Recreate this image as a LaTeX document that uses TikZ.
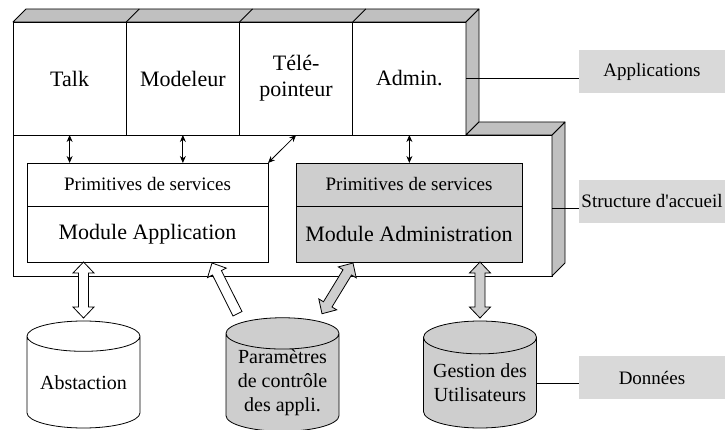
\documentclass[tikz,border=0pt]{standalone}
\usepackage{fontspec}
\setmainfont{Liberation Serif}
\usetikzlibrary{arrows.meta, positioning, shapes.geometric, calc}
\definecolor{FaceGray}{RGB}{192,192,192}
\definecolor{ModGray}{RGB}{206,206,206}
\definecolor{LabelGray}{RGB}{217,217,217}
\newcommand{\appfont}{\fontsize{22}{26}\selectfont}
\newcommand{\primfont}{\fontsize{19}{22}\selectfont}
\newcommand{\dbfont}{\fontsize{20}{24}\selectfont}

% fat arrow, two heads: fill, from, to
\newcommand{\dblarrow}[3]{%
  \coordinate (fa-a) at (#2); \coordinate (fa-b) at (#3);
  \coordinate (fa-h1) at ($(fa-a)!11pt!(fa-b)$);
  \coordinate (fa-h2) at ($(fa-b)!11pt!(fa-a)$);
  \draw[fill=#1, line width=0.8pt] (fa-a) -- ($(fa-h1)!10.5pt!90:(fa-b)$) -- ($(fa-h1)!5pt!90:(fa-b)$)
    -- ($(fa-h2)!5pt!-90:(fa-a)$) -- ($(fa-h2)!10.5pt!-90:(fa-a)$) -- (fa-b)
    -- ($(fa-h2)!10.5pt!90:(fa-a)$) -- ($(fa-h2)!5pt!90:(fa-a)$)
    -- ($(fa-h1)!5pt!-90:(fa-b)$) -- ($(fa-h1)!10.5pt!-90:(fa-b)$) -- cycle;}
% fat arrow, one head at the end: fill, from, to
\newcommand{\sglarrow}[3]{%
  \coordinate (fa-a) at (#2); \coordinate (fa-b) at (#3);
  \coordinate (fa-h2) at ($(fa-b)!11pt!(fa-a)$);
  \draw[fill=#1, line width=0.8pt] ($(fa-a)!5pt!90:(fa-b)$)
    -- ($(fa-h2)!5pt!-90:(fa-a)$) -- ($(fa-h2)!10.5pt!-90:(fa-a)$) -- (fa-b)
    -- ($(fa-h2)!10.5pt!90:(fa-a)$) -- ($(fa-h2)!5pt!90:(fa-a)$)
    -- ($(fa-a)!5pt!-90:(fa-b)$) -- cycle;}

\begin{document}
\begin{tikzpicture}[x=1pt, y=-1pt, line width=0.8pt]
        \tikzstyle{appbox} = [rectangle, draw, fill=white, minimum width=113.25pt, minimum height=113pt, inner sep=0pt, outer sep=0pt, align=center, font=\appfont]
        \tikzstyle{primbox} = [rectangle, draw, fill=white, minimum height=43pt, inner sep=0pt, outer sep=0pt, font=\primfont]
        \tikzstyle{modbox} = [rectangle, draw, fill=white, minimum height=56pt, inner sep=0pt, outer sep=0pt, font=\appfont]
        \tikzstyle{db} = [cylinder, shape border rotate=90, draw, fill=white, minimum width=113pt, minimum height=107pt, aspect=0.35, inner sep=0pt, outer sep=0pt, align=center, anchor=shape center, font=\dbfont]
        \tikzstyle{layer} = [rectangle, fill=LabelGray, minimum width=146pt, minimum height=43pt, inner sep=0pt, font=\primfont]
        \tikzstyle{face} = [draw, fill=FaceGray, line join=round]
        \tikzstyle{arrow} = [<->, >={Stealth[length=7pt, width=6pt]}]

        \useasboundingbox (0,0) rectangle (725,430);

        % Structure d'accueil
        \node (struct) [rectangle, draw, fill=white, minimum width=539pt, minimum height=141pt, outer sep=0pt] at (282.5,205.5) {};
        \draw [face] (struct.north east) -- ++(13,-13) -- ++(0,141) -- (struct.south east) -- cycle;

        % Applications
        \node (talk) [appbox] at (69.625,78.5) {Talk};
        \node (modeleur) [appbox, right=0pt of talk] {Modeleur};
        \node (tele) [appbox, right=0pt of modeleur] {Télé-\\pointeur};
        \node (admin) [appbox, right=0pt of tele] {Admin.};
        \draw [face] (talk.north west) -- ++(13,-13) -- ($(admin.north east)+(13,-13)$) -- (admin.north east) -- cycle;
        \foreach \b in {modeleur, tele, admin}
            \draw (\b.north west) -- ++(13,-13);
        \draw [face] (admin.north east) -- ++(13,-13) -- ($(admin.south east)+(13,-13)$) -- (admin.south east) -- cycle;
        \draw [face] (admin.south east) -- ++(13,-13) -- ($(struct.north east)+(13,-13)$) -- (struct.north east) -- cycle;

        % Modules
        \node (prim1) [primbox, minimum width=241pt] at (147.5,184.5) {Primitives de services};
        \node (modapp) [modbox, minimum width=241pt, below=0pt of prim1] {Module Application};
        \node (prim2) [primbox, fill=ModGray, minimum width=226pt] at (409,184.5) {Primitives de services};
        \node (modadm) [modbox, fill=ModGray, minimum width=226pt, below=0pt of prim2] {Module Administration};

        % Données
        \node (abst) [db] at (83.5,374.5) {Abstaction};
        \node (param) [db, fill=ModGray] at (282.5,374.5) {Paramètres\\de contrôle\\des appli.};
        \node (gest) [db, fill=ModGray] at (480,374.5) {Gestion des\\Utilisateurs};

        % Arrows
        \draw [arrow] (talk.south) -- (talk.south |- prim1.north);
        \draw [arrow] (modeleur.south) -- (modeleur.south |- prim1.north);
        \draw [arrow] (tele.south) -- (prim1.north east);
        \draw [arrow] (admin.south) -- (admin.south |- prim2.north);
        \dblarrow{white}{$(abst.north)+(0,-3)$}{abst.north |- modapp.south}
        \sglarrow{white}{$(param.north)+(-45,-4)$}{$(modapp.south east)+(-56,1)$}
        \dblarrow{ModGray}{$(param.north)+(39.5,-4)$}{$(modadm.south west)+(57,1)$}
        \dblarrow{ModGray}{$(gest.north)+(0,-3)$}{gest.north |- modadm.south}

        % Labels
        \node (applab) [layer] at (652,71.5) {Applications};
        \node (structlab) [layer] at (652,201.5) {Structure d\textquotesingle accueil};
        \node (donlab) [layer] at (652,377.5) {Données};
        \draw (admin.east) -- (admin.east -| applab.west);
        \draw ($(struct.east)+(0,2.5)$) -- ($(struct.east -| structlab.west)+(0,2.5)$);
        \draw (gest.east) -- (gest.east -| donlab.west);
    \end{tikzpicture}
\end{document}
